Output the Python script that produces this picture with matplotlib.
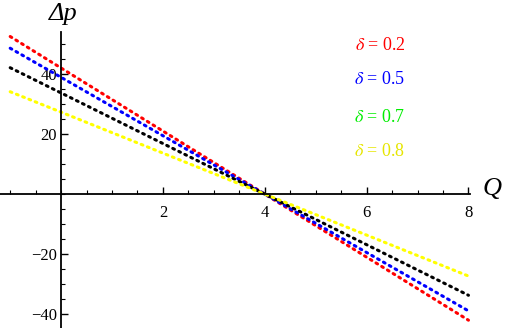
import numpy as np
import matplotlib
matplotlib.use("Agg")
import matplotlib.pyplot as plt
from matplotlib.ticker import MultipleLocator

# every line goes through Q = 4, dp = 0
Q = [-1, 0, 4, 8]
dp_02 = [52.5, 42.0, 0.0, -42.0]
dp_05 = [48.6, 38.9, 0.0, -38.9]
dp_07 = [42.1, 33.7, 0.0, -33.7]
dp_08 = [34.1, 27.3, 0.0, -27.3]

series = [dp_02, dp_05, dp_07, dp_08]
line_colors = ["#FF0000", "#0000FF", "#000000", "#FFFF00"]
labels = [r"$\delta$ = 0.2", r"$\delta$ = 0.5", r"$\delta$ = 0.7", r"$\delta$ = 0.8"]
label_colors = ["#FF0000", "#0000FF", "#00EE00", "#E6E600"]

SERIF = "Liberation Serif"
plt.rcParams["mathtext.fontset"] = "stix"

fig = plt.figure(figsize=(5.05, 3.28), dpi=100)
ax = fig.add_axes([0, 0, 470 / 505, 1 - 32 / 328])

for vals, c in zip(series, line_colors):
    ax.plot(Q, vals, color=c, linewidth=2.2, linestyle=(0, (0.6, 1.6)),
            dash_capstyle="round", clip_on=False)

ax.set_xlim(-1.2, 8.03)
ax.set_ylim(-44.6, 54.0)

for s in ["top", "right"]:
    ax.spines[s].set_visible(False)
ax.spines["left"].set_position(("data", 0))
ax.spines["bottom"].set_position(("data", 0))
ax.spines["left"].set_linewidth(1.3)
ax.spines["bottom"].set_linewidth(1.3)

ax.set_xticks([2, 4, 6, 8])
ax.set_yticks([-40, -20, 20, 40])
ax.xaxis.set_minor_locator(MultipleLocator(0.5))
ax.yaxis.set_minor_locator(MultipleLocator(5))
ax.tick_params(axis="x", which="major", direction="in", length=5, width=1, pad=8)
ax.tick_params(axis="x", which="minor", direction="in", length=3, width=0.8)
ax.tick_params(axis="y", which="major", direction="in", length=5, width=1, pad=3)
ax.tick_params(axis="y", which="minor", direction="in", length=3, width=0.8)
ax.set_xticklabels(["2", "4", "6", "8"], fontfamily=SERIF, fontsize=12)
ax.set_yticklabels(["\u221240", "\u221220", "20", "40"], fontfamily=SERIF, fontsize=12)

fig.text(492 / 505, 1 - 189 / 328, "Q", fontfamily=SERIF, style="italic",
         fontsize=19, ha="center", va="center")
fig.text(63 / 505, 1 - 14 / 328, "Δp", fontfamily=SERIF, style="italic",
         fontsize=19, ha="center", va="center")

label_y = [45, 79, 117, 152]
for txt, c, yp in zip(labels, label_colors, label_y):
    fig.text(380 / 505, 1 - yp / 328, txt, fontfamily=SERIF, fontsize=13,
             color=c, ha="center", va="center")

fig.savefig("out.png", dpi=100)
